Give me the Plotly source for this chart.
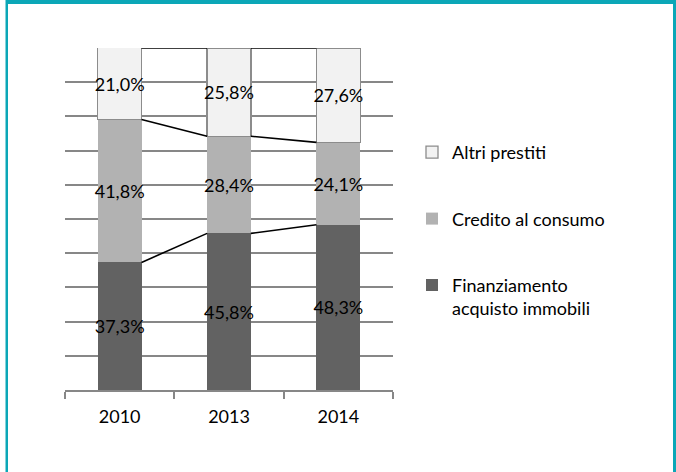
import plotly.graph_objects as go

# ---- data ----
years = ["2010", "2013", "2014"]
finanziamento = [37.3, 45.8, 48.3]
credito = [41.8, 28.4, 24.1]
altri = [21.0, 25.8, 27.6]
names = ["Finanziamento<br>acquisto immobili", "Credito al consumo", "Altri prestiti"]
colors = ["#626262", "#B2B2B2", "#F2F2F2"]
y_grid = list(range(0, 101, 10))

# ---- layout constants ----
W, H = 676, 472
ML, MR, MT, MB = 65, 283, 48, 82
PW, PH = W - ML - MR, H - MT - MB
BAR_W = 0.4
TEAL = "#0BA7B7"
FONT = "Lato"


def px_x(p):
    return (p - ML) / PW


def px_y(p):
    return (H - MB - p) / PH


def fmt(v):
    return f"{v:.1f}%".replace(".", ",")


xs = list(range(len(years)))
series = [finanziamento, credito, altri]

fig = go.Figure()
for k, (vals, name, col) in enumerate(zip(series, names, colors)):
    fig.add_trace(go.Bar(
        x=xs, y=vals, name=name, width=BAR_W,
        marker=dict(color=col,
                    line=dict(color="#8C8C8C" if k == 2 else col, width=1.3 if k == 2 else 0)),
        text=[fmt(v) for v in vals], textposition="inside", insidetextanchor="middle",
        textangle=0, constraintext="none",
        textfont=dict(family=FONT, size=18, color="black"),
        legendgroup=f"g{k}", legendrank=len(series) - k, hoverinfo="skip",
    ))

# series lines connecting the stacked segments
cum = []
run = [0.0] * len(years)
for vals in series:
    run = [a + b for a, b in zip(run, vals)]
    cum.append(run[:])
lx, ly = [], []
for level in cum:
    for i in range(len(years) - 1):
        lx += [xs[i] + BAR_W / 2, xs[i + 1] - BAR_W / 2, None]
        ly += [min(level[i], 100), min(level[i + 1], 100), None]
fig.add_trace(go.Scatter(x=lx, y=ly, mode="lines", line=dict(color="black", width=1.6),
                         showlegend=False, hoverinfo="skip", cliponaxis=False))

shapes = [
    dict(type="rect", xref="paper", yref="paper", x0=px_x(6), x1=px_x(676), y0=px_y(0), y1=px_y(4),
         fillcolor=TEAL, line=dict(width=0), layer="above"),
    dict(type="rect", xref="paper", yref="paper", x0=px_x(5.5), x1=px_x(8), y0=px_y(0), y1=px_y(472),
         fillcolor=TEAL, line=dict(width=0), layer="above"),
    dict(type="rect", xref="paper", yref="paper", x0=px_x(673), x1=px_x(676), y0=px_y(0), y1=px_y(472),
         fillcolor=TEAL, line=dict(width=0), layer="above"),
]

fig.update_layout(
    width=W, height=H, margin=dict(l=ML, r=MR, t=MT, b=MB),
    barmode="stack", bargap=0.6,
    paper_bgcolor="white", plot_bgcolor="white",
    font=dict(family=FONT, size=18, color="black"),
    showlegend=True,
    legend=dict(x=px_x(412), xanchor="left", y=px_y(134), yanchor="top",
                traceorder="grouped", tracegroupgap=40, valign="top",
                font=dict(family=FONT, size=18, color="black"),
                bgcolor="rgba(0,0,0,0)", borderwidth=0),
    xaxis=dict(range=[-0.5, len(years) - 0.5], tickvals=xs, ticktext=years, ticks="",
               showgrid=False, zeroline=False, showline=True, linecolor="#878787", linewidth=1.5,
               ticklabelstandoff=10,
               tickfont=dict(family=FONT, size=18, color="black"),
               minor=dict(tickvals=[i - 0.5 for i in range(len(years) + 1)], ticks="outside",
                          ticklen=7, tickcolor="#878787", tickwidth=1.5, showgrid=False)),
    yaxis=dict(range=[0, 100], tickvals=y_grid, showticklabels=False, ticks="",
               showgrid=True, gridcolor="#878787", gridwidth=1.5, zeroline=False, showline=False),
    shapes=shapes,
)

fig.write_html("out.html", config={"displayModeBar": False},
               post_script="document.body.style.margin='0';document.body.style.overflow='hidden';")
